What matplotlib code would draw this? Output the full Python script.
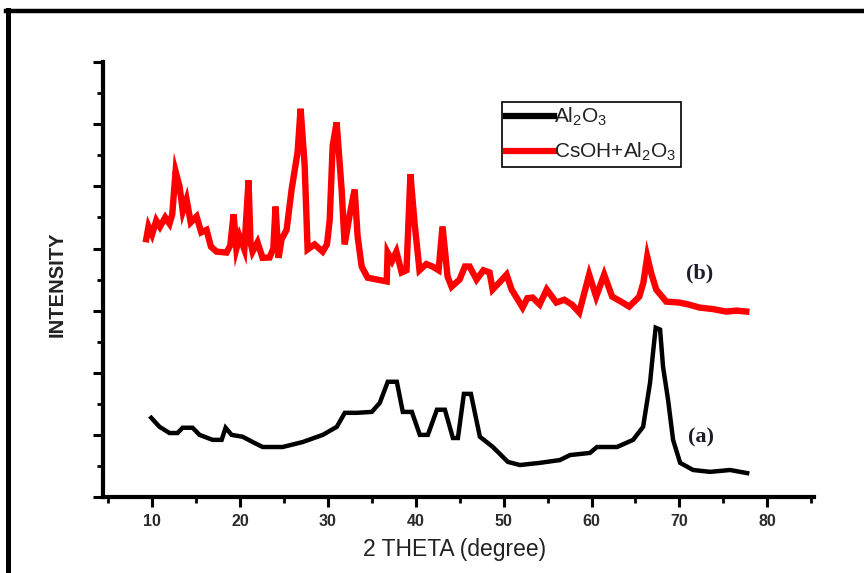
import matplotlib
matplotlib.use("Agg")
import matplotlib.pyplot as plt
from matplotlib.lines import Line2D
from matplotlib.ticker import MultipleLocator, NullFormatter

# ---- data (intensity in arbitrary units) ----
theta_a = [9.91, 10.85, 11.99, 12.9, 13.47, 14.61, 15.41, 16.89, 17.92, 18.37,
           19.05, 20.31, 21.45, 22.59, 24.86, 27.14, 29.42, 31.02, 31.93, 33.29,
           35.0, 35.91, 36.82, 37.85, 38.53, 39.56, 40.47, 41.38, 42.41, 43.32,
           44.23, 44.8, 45.48, 46.28, 47.3, 48.78, 50.49, 51.86, 54.13, 56.41,
           57.55, 59.83, 60.62, 62.9, 64.73, 65.87, 66.66, 67.0, 67.3, 67.8,
           68.14, 68.71, 69.28, 70.08, 71.56, 73.5, 75.77, 76.91, 77.71]
int_a = [2.55, 2.26, 2.06, 2.06, 2.23, 2.23, 2.0, 1.84, 1.84, 2.23,
         2.0, 1.94, 1.77, 1.61, 1.61, 1.77, 2.0, 2.26, 2.71, 2.71,
         2.74, 3.03, 3.71, 3.71, 2.74, 2.74, 2.0, 2.0, 2.81, 2.81,
         1.9, 1.9, 3.32, 3.32, 1.94, 1.61, 1.13, 1.03, 1.1, 1.19,
         1.35, 1.42, 1.61, 1.61, 1.84, 2.26, 3.68, 4.65, 5.45, 5.39,
         4.19, 3.13, 1.84, 1.1, 0.87, 0.81, 0.87, 0.81, 0.77]

theta_b = [9.34, 9.6, 10.0, 10.48, 10.9, 11.5, 11.99, 12.3, 12.68, 13.13,
           13.5, 13.93, 14.4, 15.07, 15.6, 16.2, 16.7, 17.34, 18.48, 18.9,
           19.28, 19.6, 19.96, 20.5, 20.98, 21.2, 21.44, 22.0, 22.57, 23.37,
           23.8, 24.05, 24.4, 24.74, 25.31, 25.88, 26.56, 26.9, 27.36, 27.7,
           28.5, 29.41, 29.9, 30.21, 30.55, 31.0, 31.57, 31.91, 32.5, 33.05,
           33.39, 33.85, 34.53, 35.6, 36.7, 36.8, 37.3, 37.8, 38.4, 38.95,
           39.4, 39.86, 40.43, 41.2, 41.91, 42.6, 43.05, 43.62, 44.08, 44.99,
           45.6, 46.13, 46.92, 47.7, 48.4, 48.75, 49.5, 50.34, 50.91, 52.16,
           52.7, 53.3, 54.1, 54.9, 56.0, 56.9, 57.8, 58.6, 59.73, 60.53,
           61.44, 62.35, 63.3, 64.29, 65.43, 65.9, 66.34, 66.8, 67.36, 68.5,
           69.98, 71.0, 72.26, 73.8, 75.33, 76.5, 77.61]
int_b = [8.3, 8.71, 8.45, 8.9, 8.7, 9.0, 8.8, 9.1, 10.48, 10.0,
         9.2, 9.58, 8.84, 9.03, 8.52, 8.6, 8.06, 7.9, 7.87, 8.1,
         9.1, 8.0, 8.39, 7.97, 10.19, 8.2, 7.9, 8.2, 7.7, 7.71,
         8.0, 9.35, 7.7, 8.3, 8.6, 9.9, 11.1, 12.5, 10.7, 7.97,
         8.13, 7.9, 8.13, 8.9, 11.3, 12.06, 9.9, 8.13, 9.1, 9.9,
         8.39, 7.42, 7.06, 7.0, 6.94, 7.87, 7.6, 7.9, 7.23, 7.3,
         10.39, 8.84, 7.3, 7.5, 7.42, 7.3, 8.71, 7.1, 6.77, 7.0,
         7.42, 7.42, 7.0, 7.3, 7.23, 6.68, 6.9, 7.16, 6.68, 6.1,
         6.4, 6.42, 6.2, 6.68, 6.26, 6.35, 6.19, 5.94, 7.16, 6.45,
         7.16, 6.45, 6.3, 6.13, 6.45, 6.9, 7.74, 7.2, 6.68, 6.29,
         6.26, 6.2, 6.1, 6.05, 5.97, 6.0, 5.97]

labels = [r"Al$_2$O$_3$", r"CsOH+Al$_2$O$_3$"]
xticks = [10, 20, 30, 40, 50, 60, 70, 80]

plt.rcParams['font.family'] = ['Liberation Sans', 'DejaVu Sans']
plt.rcParams['mathtext.fontset'] = 'custom'
plt.rcParams['mathtext.rm'] = 'Liberation Sans'
plt.rcParams['mathtext.it'] = 'Liberation Sans'

fig = plt.figure(figsize=(8.64, 5.73), dpi=100)
ax = fig.add_axes([0.119, 0.1326, 0.823, 0.759])

ax.plot(theta_a, int_a, color='black', lw=3.2, solid_joinstyle='miter')
ax.plot(theta_b, int_b, color='#ff0000', lw=4.6, solid_joinstyle='miter')

ax.set_xlim(4.4, 85.3)
ax.set_ylim(0, 14)

for s in ['top', 'right']:
    ax.spines[s].set_visible(False)
for s in ['left', 'bottom']:
    ax.spines[s].set_linewidth(3.0)

ax.set_xticks(xticks)
ax.xaxis.set_minor_locator(MultipleLocator(5))
ax.yaxis.set_major_locator(MultipleLocator(2))
ax.yaxis.set_minor_locator(MultipleLocator(1))
ax.yaxis.set_major_formatter(NullFormatter())
ax.tick_params(axis='both', which='major', direction='out', length=7, width=2.2,
               labelsize=11.5, labelcolor='#2a2a2a', pad=5)
ax.tick_params(axis='both', which='minor', direction='out', length=4, width=2.0)
for lab in ax.get_xticklabels():
    lab.set_fontweight('bold')

ax.set_xlabel("2 THETA (degree)", fontsize=16.5, color='#222222')
ax.xaxis.set_label_coords(0.495, -0.095)
ax.set_ylabel("INTENSITY", fontsize=14.5, fontweight='bold', color='#222222')
ax.yaxis.set_label_coords(-0.051, 0.49)

ax.text(72.3, 7.2, "(b)", fontsize=16, fontweight='bold',
        family=['Liberation Serif', 'DejaVu Serif'], color='#1c1c2c',
        ha='center', va='center')
ax.text(72.5, 1.92, "(a)", fontsize=16, fontweight='bold',
        family=['Liberation Serif', 'DejaVu Serif'], color='#1c1c2c',
        ha='center', va='center')

handles = [Line2D([], [], color='black', lw=4.5),
           Line2D([], [], color='#ff0000', lw=4.5)]
leg = fig.legend(handles, labels, loc='upper left',
                 bbox_to_anchor=(502 / 864, 1 - 102 / 573),
                 fontsize=15, handlelength=2.3, handletextpad=0.0,
                 borderpad=0.2, labelspacing=0.6, borderaxespad=0,
                 fancybox=False, framealpha=1, edgecolor='black')
leg.get_frame().set_linewidth(1.2)
for t in leg.get_texts():
    t.set_color('#222222')

# outer frame lines (top and left)
fig.add_artist(Line2D([6 / 864, 1.0], [1 - 11 / 573, 1 - 11 / 573],
                      transform=fig.transFigure, color='black', lw=3.2))
fig.add_artist(Line2D([7.5 / 864, 7.5 / 864], [0, 1 - 9.5 / 573],
                      transform=fig.transFigure, color='black', lw=3.6))

fig.savefig("out.png", dpi=100)
